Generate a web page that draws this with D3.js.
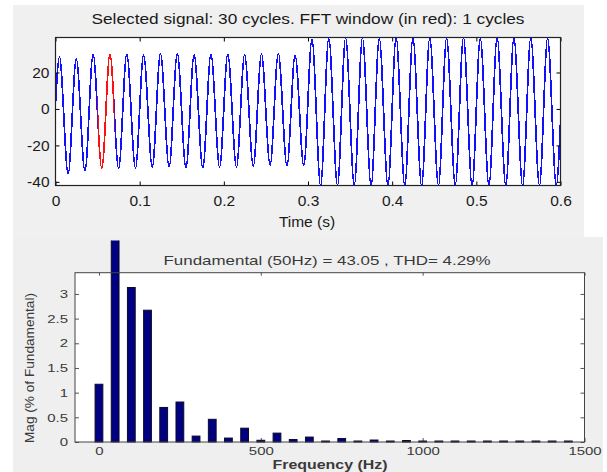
<!DOCTYPE html>
<html>
<head>
<meta charset="utf-8">
<script src="https://cdn.jsdelivr.net/npm/d3@7"></script>
<style>
  body { margin: 0; background: #fff; }
  svg { display: block; font-family: "Liberation Sans", Arial, sans-serif; }
</style>
</head>
<body>
<div id="chart"></div>
<script>
// ---- data ----
// signal: 30 cycles of 50 Hz, one peak and one trough per cycle
const period = 0.02;
const peakVals = [28.4, 27.4, 29.9, 29.9, 30, 29.5, 30.4, 30.4, 29.6, 30, 30, 29.6, 30, 30.5, 29.5,
                  38.2, 38.8, 39, 38.8, 38.7, 39, 38.8, 39, 38.8, 39, 38.8, 39, 38.8, 39, 38.8];
const troughVals = [-35.5, -34, -32.6, -32.5, -32.3, -31.8, -31.8, -32.2, -32.2, -31.8, -31.8, -31.3, -30.8, -31.2, -31,
                    -42, -42, -41.8, -42, -42, -41.8, -42, -42, -41.8, -42, -42, -41.8, -42, -42, -41.8];
const startVal = 3;
const endVal = -7;
const fftWindow = [0.05, 0.07];
const timeTicks = [0, 0.1, 0.2, 0.3, 0.4, 0.5, 0.6];
const sigTicks = [-40, -20, 0, 20];

// harmonic spectrum (% of fundamental), 0 .. 1450 Hz in 50 Hz steps
const harmFreqs = [0, 50, 100, 150, 200, 250, 300, 350, 400, 450, 500, 550, 600, 650, 700,
                   750, 800, 850, 900, 950, 1000, 1050, 1100, 1150, 1200, 1250, 1300, 1350, 1400, 1450];
const harmMags = [1.17, 100, 3.13, 2.67, 0.70, 0.81, 0.12, 0.46, 0.08, 0.28, 0.035, 0.18, 0.05, 0.10, 0.02,
                  0.07, 0.02, 0.04, 0.02, 0.03, 0.015, 0.01, 0.01, 0.01, 0.01, 0.01, 0.01, 0.01, 0.01, 0.01];
const freqTicks = [0, 500, 1000, 1500];
const magTicks = [0, 0.5, 1, 1.5, 2, 2.5, 3];

const topTitle = "Selected signal: 30 cycles. FFT window (in red): 1 cycles";
const bottomTitle = "Fundamental (50Hz) = 43.05 , THD= 4.29%";

// plain labels, hyphen minus and no thousands separator
const plain = d => String(d);

// ---- page ----
const W = 607, H = 472;
const svg = d3.select("#chart").append("svg").attr("width", W).attr("height", H);

// grey figure backgrounds (two stacked screenshots)
svg.append("rect").attr("x", 13).attr("y", 5).attr("width", 571).attr("height", 233).attr("fill", "#f0f0f0");
svg.append("rect").attr("x", 13).attr("y", 237).attr("width", 590).attr("height", 235).attr("fill", "#efefef");

// ================= top: time signal =================
const t = { left: 55.5, right: 560.5, top: 37.5, bottom: 185.5 };
const x1 = d3.scaleLinear().domain([0, 0.6]).range([t.left, t.right]);
const y1 = d3.scaleLinear().domain([-42, 39.2]).range([t.bottom, t.top]);

svg.append("rect").attr("x", t.left).attr("y", t.top)
  .attr("width", t.right - t.left).attr("height", t.bottom - t.top).attr("fill", "#fff");

// keypoints: start, then peak/trough of each cycle, end
const sig = [[0, startVal]];
peakVals.forEach((p, k) => {
  sig.push([k * period + 0.0047, p]);
  sig.push([k * period + 0.0150, troughVals[k]]);
});
sig.push([0.6, endVal]);

const line = d3.line().x(d => x1(d[0])).y(d => y1(d[1])).curve(d3.curveMonotoneX);

const defs = svg.append("defs");
defs.append("clipPath").attr("id", "plotClip").append("rect")
  .attr("x", t.left).attr("y", t.top).attr("width", t.right - t.left).attr("height", t.bottom - t.top);
defs.append("clipPath").attr("id", "redClip").append("rect")
  .attr("x", x1(fftWindow[0])).attr("y", t.top)
  .attr("width", x1(fftWindow[1]) - x1(fftWindow[0])).attr("height", t.bottom - t.top);

svg.append("path").datum(sig).attr("d", line)
  .attr("fill", "none").attr("stroke", "#1010ff").attr("stroke-width", 1.7)
  .attr("shape-rendering", "crispEdges").attr("clip-path", "url(#plotClip)");
svg.append("path").datum(sig).attr("d", line)
  .attr("fill", "none").attr("stroke", "#ff1010").attr("stroke-width", 1.7)
  .attr("shape-rendering", "crispEdges").attr("clip-path", "url(#redClip)");

const topFont = "15.5px";
// axes with inward ticks
svg.append("g").attr("transform", `translate(0,${t.bottom})`)
  .call(d3.axisBottom(x1).tickValues(timeTicks).tickFormat(plain).tickSizeInner(-4).tickSizeOuter(0).tickPadding(9))
  .call(g => g.select(".domain").remove())
  .call(g => g.selectAll("text").style("font-size", topFont).attr("fill", "#1a1a1a"));
svg.append("g").attr("transform", `translate(0,${t.top})`)
  .call(d3.axisTop(x1).tickValues(timeTicks).tickFormat("").tickSizeInner(-4).tickSizeOuter(0))
  .call(g => g.select(".domain").remove());
svg.append("g").attr("transform", `translate(${t.left},0)`)
  .call(d3.axisLeft(y1).tickValues(sigTicks).tickFormat(plain).tickSizeInner(-4).tickSizeOuter(0).tickPadding(6))
  .call(g => g.select(".domain").remove())
  .call(g => g.selectAll("text").style("font-size", topFont).attr("fill", "#1a1a1a"));
svg.append("g").attr("transform", `translate(${t.right},0)`)
  .call(d3.axisRight(y1).tickValues(sigTicks).tickFormat("").tickSizeInner(-4).tickSizeOuter(0))
  .call(g => g.select(".domain").remove());

svg.append("rect").attr("x", t.left).attr("y", t.top)
  .attr("width", t.right - t.left).attr("height", t.bottom - t.top)
  .attr("fill", "none").attr("stroke", "#222").attr("stroke-width", 1.2);

svg.append("text").attr("x", (t.left + t.right) / 2).attr("y", 24)
  .attr("text-anchor", "middle").style("font-size", topFont).attr("fill", "#1a1a1a")
  .attr("textLength", 433).attr("lengthAdjust", "spacingAndGlyphs").text(topTitle);
svg.append("text").attr("x", 307).attr("y", 227)
  .attr("text-anchor", "middle").style("font-size", topFont).attr("fill", "#1a1a1a").text("Time (s)");

// ================= bottom: FFT bars =================
const b = { left: 75, right: 584.5, top: 272.7, bottom: 442 };
const x2 = d3.scaleLinear().domain([-74, 1500]).range([b.left, b.right]);
const y2 = d3.scaleLinear().domain([0, 3.43]).range([b.bottom, b.top]);

svg.append("rect").attr("x", b.left).attr("y", b.top)
  .attr("width", b.right - b.left).attr("height", b.bottom - b.top).attr("fill", "#fff");

const bottomText = "#3a3a3a";
const stretch = sel => sel.each(function() {
  const w = this.getComputedTextLength();
  d3.select(this).attr("textLength", w * 1.3).attr("lengthAdjust", "spacingAndGlyphs");
});

svg.append("g").attr("transform", `translate(0,${b.bottom})`)
  .call(d3.axisBottom(x2).tickValues(freqTicks).tickFormat(plain).tickSizeInner(-4).tickSizeOuter(0).tickPadding(5))
  .call(g => g.select(".domain").remove())
  .call(g => g.selectAll("line").attr("stroke", "#555"))
  .call(g => g.selectAll("text").style("font-size", "11.5px").attr("fill", bottomText).call(stretch));
svg.append("g").attr("transform", `translate(0,${b.top})`)
  .call(d3.axisTop(x2).tickValues(freqTicks).tickFormat("").tickSizeInner(-3).tickSizeOuter(0))
  .call(g => g.select(".domain").remove())
  .call(g => g.selectAll("line").attr("stroke", "#555"));
svg.append("g").attr("transform", `translate(${b.left},0)`)
  .call(d3.axisLeft(y2).tickValues(magTicks).tickFormat(plain).tickSizeInner(-4).tickSizeOuter(0).tickPadding(7))
  .call(g => g.select(".domain").remove())
  .call(g => g.selectAll("line").attr("stroke", "#555"))
  .call(g => g.selectAll("text").style("font-size", "11.5px").attr("fill", bottomText).call(stretch));
svg.append("g").attr("transform", `translate(${b.right},0)`)
  .call(d3.axisRight(y2).tickValues(magTicks).tickFormat("").tickSizeInner(-4).tickSizeOuter(0))
  .call(g => g.select(".domain").remove())
  .call(g => g.selectAll("line").attr("stroke", "#555"));

defs.append("clipPath").attr("id", "barClip").append("rect")
  .attr("x", 0).attr("y", 240.5).attr("width", W).attr("height", H);

const barW = 24; // Hz
const bars = harmFreqs.map((f, i) => ({ f, m: harmMags[i] }));
svg.append("g").attr("clip-path", "url(#barClip)")
  .selectAll("rect").data(bars).join("rect")
  .attr("x", d => x2(d.f - barW / 2))
  .attr("width", x2(barW) - x2(0))
  .attr("y", d => Math.min(y2(d.m), b.bottom - 1))
  .attr("height", d => Math.max(b.bottom - y2(d.m), 1))
  .attr("fill", "#000080").attr("stroke", "#0a0a2a").attr("stroke-width", 1);

svg.append("rect").attr("x", b.left).attr("y", b.top)
  .attr("width", b.right - b.left).attr("height", b.bottom - b.top)
  .attr("fill", "none").attr("stroke", "#444").attr("stroke-width", 1);

svg.append("text").attr("x", 327).attr("y", 265)
  .attr("text-anchor", "middle").style("font-size", "13px").attr("fill", bottomText)
  .attr("textLength", 327).attr("lengthAdjust", "spacingAndGlyphs").text(bottomTitle);
svg.append("text").attr("transform", "translate(34,368) rotate(-90)")
  .attr("text-anchor", "middle").style("font-size", "12px").attr("fill", bottomText)
  .attr("textLength", 150).attr("lengthAdjust", "spacingAndGlyphs").text("Mag (% of Fundamental)");
svg.append("text").attr("x", 330).attr("y", 469)
  .attr("text-anchor", "middle").style("font-size", "12.5px").style("font-weight", "bold").attr("fill", bottomText)
  .attr("textLength", 115).attr("lengthAdjust", "spacingAndGlyphs").text("Frequency (Hz)");
</script>
</body>
</html>
